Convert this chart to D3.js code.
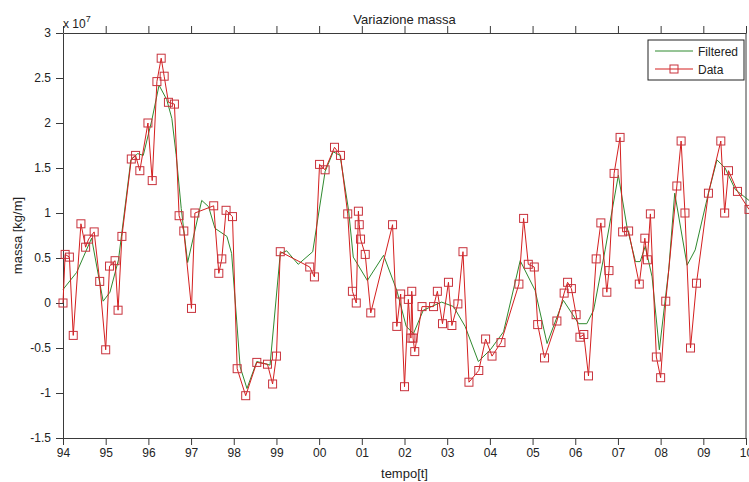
<!DOCTYPE html>
<html>
<head>
<meta charset="utf-8">
<script src="https://cdn.jsdelivr.net/npm/d3@7"></script>
<style>
  body { margin: 0; background: #fff; }
  svg { display: block; font-family: "Liberation Sans", Arial, sans-serif; }
  .axis path, .axis line { stroke: #3a3a3a; }
  .axis text { fill: #222; font-size: 12px; }
</style>
</head>
<body>
<div id="chart"></div>
<script>
// tick values and labels
let yearTicks = [1994, 1995, 1996, 1997, 1998, 1999, 2000, 2001, 2002, 2003, 2004, 2005, 2006, 2007, 2008, 2009, 2010];
let yearLabels = ["94", "95", "96", "97", "98", "99", "00", "01", "02", "03", "04", "05", "06", "07", "08", "09", "10"];
let massTicks = [-1.5, -1, -0.5, 0, 0.5, 1, 1.5, 2, 2.5, 3];

// raw data (x = decimal year, y = massa in units of 1e7 kg/m)
let dataX = [1994.00, 1994.05, 1994.15, 1994.24, 1994.42, 1994.53, 1994.60, 1994.73, 1994.86, 1995.00,
  1995.09, 1995.22, 1995.29, 1995.38, 1995.60, 1995.70, 1995.80, 1995.99, 1996.09, 1996.20,
  1996.30, 1996.37, 1996.47, 1996.61, 1996.72, 1996.83, 1997.01, 1997.09, 1997.53, 1997.65,
  1997.72, 1997.82, 1997.97, 1998.08, 1998.28, 1998.54, 1998.79, 1998.91, 1999.00, 1999.09,
  1999.78, 1999.89, 2000.01, 2000.14, 2000.36, 2000.50, 2000.67, 2000.78, 2000.87, 2000.92,
  2000.94, 2000.97, 2001.08, 2001.21, 2001.72, 2001.82, 2001.91, 2002.00, 2002.09, 2002.15,
  2002.17, 2002.20, 2002.24, 2002.41, 2002.68, 2002.77, 2002.89, 2003.03, 2003.11, 2003.25,
  2003.37, 2003.51, 2003.74, 2003.90, 2004.05, 2004.26, 2004.68, 2004.79, 2004.90, 2005.04,
  2005.12, 2005.28, 2005.57, 2005.74, 2005.82, 2005.91, 2006.02, 2006.11, 2006.20, 2006.31,
  2006.49, 2006.60, 2006.74, 2006.79, 2006.91, 2007.05, 2007.11, 2007.25, 2007.50, 2007.63,
  2007.69, 2007.76, 2007.90, 2008.00, 2008.12, 2008.38, 2008.48, 2008.57, 2008.70, 2008.84,
  2009.12, 2009.41, 2009.50, 2009.59, 2009.80, 2010.07];
let dataY = [0.00, 0.54, 0.51, -0.36, 0.88, 0.62, 0.71, 0.79, 0.24, -0.52,
  0.41, 0.47, -0.08, 0.74, 1.60, 1.64, 1.47, 2.00, 1.36, 2.46,
  2.72, 2.52, 2.23, 2.21, 0.97, 0.80, -0.06, 1.00, 1.08, 0.33,
  0.49, 1.03, 0.96, -0.73, -1.03, -0.66, -0.68, -0.90, -0.59, 0.57,
  0.40, 0.29, 1.54, 1.48, 1.73, 1.64, 0.99, 0.13, 0.00, 1.02,
  0.87, 0.71, 0.54, -0.11, 0.87, -0.26, 0.10, -0.93, 0.04, -0.39,
  0.13, -0.39, -0.54, -0.04, -0.04, 0.13, -0.23, 0.23, -0.25, -0.01,
  0.57, -0.88, -0.75, -0.40, -0.59, -0.44, 0.21, 0.94, 0.43, 0.40,
  -0.24, -0.61, -0.20, 0.11, 0.23, 0.16, -0.13, -0.38, -0.35, -0.81,
  0.49, 0.89, 0.12, 0.36, 1.44, 1.84, 0.79, 0.80, 0.21, 0.72,
  0.48, 0.99, -0.60, -0.83, 0.02, 1.30, 1.80, 1.00, -0.50, 0.22,
  1.22, 1.80, 1.00, 1.47, 1.24, 1.04];

// filtered curve
let filtX = [1994.00, 1994.32, 1994.67, 1994.94, 1995.10, 1995.30, 1995.59, 1995.75, 1995.88, 1996.08,
  1996.25, 1996.43, 1996.55, 1996.65, 1996.77, 1996.92, 1997.25, 1997.41, 1997.56, 1997.84,
  1997.95, 1998.15, 1998.31, 1998.54, 1998.85, 1999.09, 1999.24, 1999.51, 1999.85, 2000.14,
  2000.33, 2000.49, 2000.69, 2000.80, 2001.13, 2001.51, 2001.82, 2002.04, 2002.21, 2002.44,
  2002.87, 2003.15, 2003.42, 2003.73, 2004.01, 2004.32, 2004.71, 2005.06, 2005.34, 2005.72,
  2006.08, 2006.27, 2006.43, 2006.70, 2007.01, 2007.21, 2007.41, 2007.52, 2007.64, 2007.80,
  2007.97, 2008.19, 2008.33, 2008.62, 2008.81, 2009.12, 2009.32, 2009.51, 2009.75, 2010.07];
let filtY = [0.15, 0.34, 0.72, 0.02, 0.12, 0.48, 1.59, 1.66, 1.64, 2.03,
  2.42, 2.26, 2.05, 1.65, 1.05, 0.45, 1.14, 1.07, 0.83, 0.74,
  0.55, -0.71, -0.95, -0.65, -0.69, 0.55, 0.58, 0.43, 0.57, 1.46,
  1.68, 1.64, 1.03, 0.51, 0.25, 0.53, 0.14, -0.26, -0.34, -0.08,
  0.01, -0.04, -0.26, -0.65, -0.52, -0.32, 0.47, 0.14, -0.45, 0.03,
  -0.23, -0.23, -0.08, 0.59, 1.42, 0.85, 0.46, 0.46, 0.63, 0.29,
  -0.52, 0.37, 1.22, 0.42, 0.59, 1.22, 1.59, 1.50, 1.26, 1.14];

let width = 749;
let height = 482;
let plotLeft = 63, plotRight = 746, plotTop = 33, plotBottom = 438;

let svg = d3.select("#chart")
  .append("svg")
  .attr("width", width)
  .attr("height", height);

let xScale = d3.scaleLinear().domain([1994, 2010]).range([plotLeft, plotRight]);
let yScale = d3.scaleLinear().domain([-1.5, 3]).range([plotBottom, plotTop]);

// axes (MATLAB style, ticks pointing out)
svg.append("g")
  .attr("class", "axis")
  .attr("transform", "translate(0," + plotBottom + ")")
  .call(d3.axisBottom(xScale).tickValues(yearTicks)
    .tickFormat(function(d, i) { return yearLabels[i]; })
    .tickSize(7).tickSizeOuter(0).tickPadding(3));

svg.append("g")
  .attr("class", "axis")
  .attr("transform", "translate(0," + plotTop + ")")
  .call(d3.axisTop(xScale).tickValues(yearTicks).tickFormat("")
    .tickSize(7).tickSizeOuter(0));

svg.append("g")
  .attr("class", "axis")
  .attr("transform", "translate(" + plotLeft + ",0)")
  .call(d3.axisLeft(yScale).tickValues(massTicks)
    .tickFormat(function(d) { return String(d); })
    .tickSize(7).tickSizeOuter(0).tickPadding(5));

svg.append("line")
  .attr("x1", plotRight).attr("x2", plotRight)
  .attr("y1", plotTop).attr("y2", plotBottom)
  .attr("stroke", "#3a3a3a");

// exponent label
let expo = svg.append("text")
  .attr("x", 63).attr("y", 28)
  .attr("font-size", 12).attr("fill", "#222");
expo.append("tspan").text("x 10");
expo.append("tspan").attr("dy", -6).attr("font-size", 9).text("7");

// title & axis labels
svg.append("text")
  .attr("x", (plotLeft + plotRight) / 2).attr("y", 24)
  .attr("text-anchor", "middle")
  .attr("font-size", 13).attr("fill", "#222")
  .text("Variazione massa");

svg.append("text")
  .attr("x", (plotLeft + plotRight) / 2).attr("y", 478)
  .attr("text-anchor", "middle")
  .attr("font-size", 13).attr("fill", "#222")
  .text("tempo[t]");

svg.append("text")
  .attr("transform", "translate(22," + ((plotTop + plotBottom) / 2) + ")rotate(-90)")
  .attr("text-anchor", "middle")
  .attr("font-size", 13).attr("fill", "#222")
  .text("massa [kg/m]");

// series
let filtPts = filtX.map(function(x, i) { return [x, filtY[i]]; });
let dataPts = dataX.map(function(x, i) { return [x, dataY[i]]; });

let line = d3.line()
  .x(function(d) { return xScale(d[0]); })
  .y(function(d) { return yScale(d[1]); });

svg.append("path")
  .datum(filtPts)
  .attr("d", line)
  .attr("fill", "none")
  .attr("stroke", "#2f8a2f")
  .attr("stroke-width", 1);

svg.append("path")
  .datum(dataPts)
  .attr("d", line)
  .attr("fill", "none")
  .attr("stroke", "#d41f1f")
  .attr("stroke-width", 1);

let sq = 8;
svg.selectAll(".marker")
  .data(dataPts)
  .enter()
  .append("rect")
  .attr("class", "marker")
  .attr("x", function(d) { return xScale(d[0]) - sq / 2; })
  .attr("y", function(d) { return yScale(d[1]) - sq / 2; })
  .attr("width", sq)
  .attr("height", sq)
  .attr("fill", "none")
  .attr("stroke", "#c8323c")
  .attr("stroke-width", 1);

// legend
let legend = svg.append("g").attr("transform", "translate(648,40)");
legend.append("rect")
  .attr("width", 96).attr("height", 40)
  .attr("fill", "#fff").attr("stroke", "#222");
legend.append("line")
  .attr("x1", 7).attr("x2", 45).attr("y1", 11).attr("y2", 11)
  .attr("stroke", "#2f8a2f");
legend.append("text")
  .attr("x", 50).attr("y", 15.5)
  .attr("font-size", 12).attr("fill", "#222")
  .text("Filtered");
legend.append("line")
  .attr("x1", 7).attr("x2", 45).attr("y1", 29).attr("y2", 29)
  .attr("stroke", "#d41f1f");
legend.append("rect")
  .attr("x", 26 - sq / 2).attr("y", 29 - sq / 2)
  .attr("width", sq).attr("height", sq)
  .attr("fill", "none").attr("stroke", "#c8323c");
legend.append("text")
  .attr("x", 50).attr("y", 33.5)
  .attr("font-size", 12).attr("fill", "#222")
  .text("Data");
</script>
</body>
</html>
